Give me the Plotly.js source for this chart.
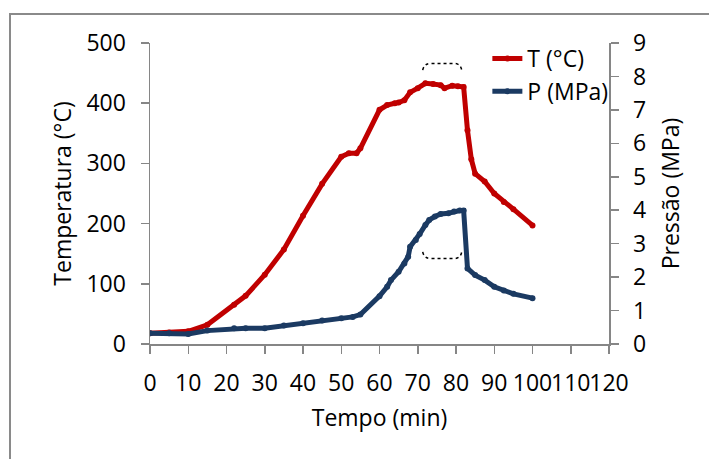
<!DOCTYPE html>
<html>
<head>
<meta charset="utf-8">
<script src="https://cdn.plot.ly/plotly-3.0.1.min.js"></script>
<style>html,body{margin:0;padding:0;background:#fff;}#chart{width:709px;height:459px;}</style>
</head>
<body>
<div id="chart"></div>
<script>
// Temperature series (time in min, T in °C)
var tempTime = [0, 5, 10, 15, 22, 25, 30, 35, 40, 45, 50, 52, 54, 55, 60, 62, 64, 65, 66.5, 68, 70, 72, 74, 76, 77, 79, 80.5, 82, 83, 84, 85, 87.5, 90, 92.5, 95, 100];
var tempValues = [18, 19, 21, 32, 65, 80, 115, 157, 213, 266, 311, 317, 317, 325, 389, 397, 400, 401, 405, 418, 425, 433, 432, 430, 425, 429, 428, 427, 355, 307, 283, 270, 250, 236, 224, 197];
// Pressure series (time in min, P in MPa)
var presTime = [0, 5, 10, 15, 22, 25, 30, 35, 40, 45, 50, 53, 55, 60, 62, 63, 65, 66.5, 67.5, 68, 69.5, 70.5, 72, 73, 74.5, 76, 78, 79.5, 81, 82, 83, 85, 87.5, 90, 92.5, 95, 100];
var presValues = [0.32, 0.32, 0.3, 0.4, 0.47, 0.47, 0.47, 0.55, 0.62, 0.7, 0.77, 0.81, 0.88, 1.43, 1.71, 1.91, 2.16, 2.41, 2.61, 2.91, 3.11, 3.29, 3.56, 3.71, 3.81, 3.89, 3.91, 3.96, 3.99, 3.99, 2.26, 2.06, 1.91, 1.71, 1.6, 1.5, 1.37];
var seriesNames = ['T (°C)', 'P (MPa)'];
var xTicks = [0, 10, 20, 30, 40, 50, 60, 70, 80, 90, 100, 110, 120];
var yTicksLeft = [0, 100, 200, 300, 400, 500];
var yTicksRight = [0, 1, 2, 3, 4, 5, 6, 7, 8, 9];

var FONT = '"Open Sans", "Noto Sans", sans-serif';
var AX = '#868686';

var traces = [
  {x: tempTime, y: tempValues, name: seriesNames[0], type: 'scatter', mode: 'lines+markers',
   line: {color: '#C00000', width: 5}, marker: {color: '#C00000', size: 6}, yaxis: 'y'},
  {x: presTime, y: presValues, name: seriesNames[1], type: 'scatter', mode: 'lines+markers',
   line: {color: '#1B3A62', width: 5}, marker: {color: '#1B3A62', size: 6}, yaxis: 'y2'}
];

var axisCommon = {
  showline: true, linecolor: AX, linewidth: 1.5, ticks: 'outside', ticklen: 8, tickcolor: AX, tickwidth: 1.5,
  showgrid: false, zeroline: false, tickfont: {family: FONT, size: 23, color: '#000'}
};

var layout = {
  width: 709, height: 459,
  margin: {l: 150, r: 100, t: 43, b: 115},
  paper_bgcolor: '#fff', plot_bgcolor: 'rgba(0,0,0,0)',
  font: {family: FONT, size: 23, color: '#000'},
  showlegend: true,
  legend: {x: 0.735, y: 1.02, xanchor: 'left', yanchor: 'top', bgcolor: 'rgba(0,0,0,0)',
           font: {family: FONT, size: 23, color: '#000'}, tracegroupgap: 0},
  xaxis: Object.assign({}, axisCommon, {range: [0, 120], tickvals: xTicks, tickangle: 0, ticklabelstandoff: 10,
    title: {text: 'Tempo (min)', font: {family: FONT, size: 23, color: '#000'}, standoff: 13}}),
  yaxis: Object.assign({}, axisCommon, {range: [0, 500], tickvals: yTicksLeft, ticklabelstandoff: 10,
    title: {text: 'Temperatura (°C)', font: {family: FONT, size: 23, color: '#000'}, standoff: 8}}),
  yaxis2: Object.assign({}, axisCommon, {range: [0, 9], tickvals: yTicksRight, overlaying: 'y', side: 'right', ticklabelstandoff: 10,
    title: {text: 'Pressão (MPa)', font: {family: FONT, size: 23, color: '#000'}, standoff: 17}}),
  shapes: [
    {type: 'rect', xref: 'paper', yref: 'paper', x0: -0.305, x1: 2, y0: -1, y1: 1.0963,
     line: {color: '#8a8a8a', width: 2}, layer: 'below'},
    {type: 'path', xref: 'x', yref: 'y', path: 'M71.3,455 Q71.6,466 73.5,466 L79.5,466 Q81.2,466 81.5,455',
     line: {color: '#000', width: 1.5, dash: 'dot'}},
    {type: 'path', xref: 'x', yref: 'y', path: 'M71.3,153 Q71.6,142 73.5,142 L79.5,142 Q81.2,142 81.5,153',
     line: {color: '#000', width: 1.5, dash: 'dot'}}
  ]
};

Plotly.newPlot('chart', traces, layout, {displayModeBar: false, staticPlot: true});
</script>
</body>
</html>
